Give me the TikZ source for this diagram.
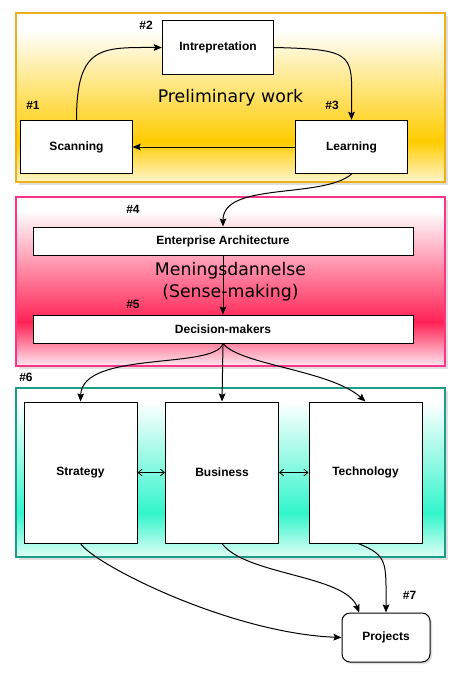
\documentclass[tikz,border=0pt]{standalone}
\usepackage{fontspec}
\setmainfont{Liberation Sans}
\newfontfamily\verdanafont{DejaVu Sans}
\usepackage{tikz}
\usetikzlibrary{arrows.meta,shadows}
\definecolor{prelimborder}{RGB}{237,176,26}
\definecolor{prelimgold}{RGB}{255,204,0}
\definecolor{prelimpale}{RGB}{255,245,205}
\definecolor{senseborder}{RGB}{255,51,136}
\definecolor{sensered}{RGB}{255,34,85}
\definecolor{sensepale}{RGB}{255,232,240}
\definecolor{fieldborder}{RGB}{26,158,136}
\definecolor{fieldcyan}{RGB}{51,245,204}
\definecolor{fieldpale}{RGB}{225,255,247}
\pgfdeclareverticalshading{prelimfade}{100bp}{color(0bp)=(prelimpale); color(25bp)=(prelimpale); color(37bp)=(prelimgold); color(70bp)=(white); color(100bp)=(white)}
\pgfdeclareverticalshading{sensefade}{100bp}{color(0bp)=(sensepale); color(25bp)=(sensepale); color(38bp)=(sensered); color(71bp)=(white); color(100bp)=(white)}
\pgfdeclareverticalshading{fieldfade}{100bp}{color(0bp)=(fieldpale); color(25bp)=(fieldpale); color(38bp)=(fieldcyan); color(71bp)=(white); color(100bp)=(white)}
\tikzset{
  area/.style={rectangle, line width=1.5pt, draw=#1border, shade, shading=#1fade,
               minimum width=321.75pt, minimum height=126.75pt, inner sep=0pt,
               drop shadow={shadow xshift=2pt, shadow yshift=-2pt, opacity=0.25}},
  heading/.style={font=\verdanafont\fontsize{13}{16.5}\selectfont, text=black, align=center},
  tag/.style={font=\bfseries\fontsize{9}{11}\selectfont},
  flow/.style={-{Stealth[length=6pt,width=5pt,inset=1pt]}, line width=0.75pt},
  link/.style={{Straight Barb[length=3pt,width=5pt]}-{Straight Barb[length=3pt,width=5pt]}, line width=0.6pt},
}

\begin{document}
\begin{tikzpicture}[
  x=0.75pt, y=-0.75pt,
  stagebox/.style={rectangle, draw=black, fill=white, line width=0.75pt, inner sep=0pt,
                   font=\bfseries\fontsize{9}{11}\selectfont},
  smallbox/.style={stagebox, minimum width=83.5pt, minimum height=40pt},
  widebox/.style={stagebox, minimum width=285pt, minimum height=21pt},
  tallbox/.style={stagebox, minimum width=84.75pt, minimum height=105.75pt},
]
  \useasboundingbox (0,0) rectangle (459,682);
  % the three areas
  \node[area=prelim] (prelim) at (230.5,97.5) {};
  \node[area=sense] (sense) at (230.5,281.5) {};
  \node[area=field] (field) at (230.5,472.5) {};
  \node[heading] (prelimtext) at (prelim.center) {Preliminary work};
  \node[heading] (sensetext) at (sense.center) {Meningsdannelse\\(Sense-making)};

  % preliminary work
  \node[smallbox] (interp) at (218,47.5) {Intrepretation};
  \node[smallbox] (scan) at (76.5,147) {Scanning};
  \node[smallbox] (learn) at (351.5,147) {Learning};

  % sense-making
  \node[widebox] (ea) at (223,241) {Enterprise Architecture};
  \node[widebox] (dm) at (223,329) {Decision-makers};

  % strategy, business, technology
  \node[tallbox] (strat) at (80.5,472.5) {Strategy};
  \node[tallbox] (bus) at (222,472.5) {Business};
  \node[tallbox] (tech) at (365.5,472.5) {Technology};

  \node[stagebox, rounded corners=6pt, minimum width=66pt, minimum height=36.75pt,
        drop shadow={shadow xshift=1.5pt, shadow yshift=-1.5pt, opacity=0.25}]
        (proj) at (386,637.5) {Projects};

  % step numbers
  \node[tag] (t1) at (33,105) {\#1};
  \node[tag] (t2) at (146,25) {\#2};
  \node[tag] (t3) at (332,105) {\#3};
  \node[tag] (t4) at (133,209) {\#4};
  \node[tag] (t5) at (133,304) {\#5};
  \node[tag] (t6) at (26,377) {\#6};
  \node[tag] (t7) at (409.5,595) {\#7};

  % connectors
  \draw[flow] (scan.north) .. controls +(0,-75) and +(-60,0) .. (interp.west);
  \draw[flow] (interp.east) .. controls +(85,2) and +(0,-65) .. (learn.north);
  \draw[flow] (learn.west) -- (scan.east);
  \draw[flow] (learn.south) .. controls +(-30,25) and +(0,-45) .. (ea.north);
  \draw[flow] (ea.south) -- (dm.north);
  \draw[flow] (dm.south) .. controls (215,370) and (82,350) .. (strat.north);
  \draw[flow] (dm.south) -- (bus.north);
  \draw[flow] (dm.south) .. controls (240,365) and (330,370) .. (tech.north);
  \draw[link] (strat) -- (bus);
  \draw[link] (bus) -- (tech);
  \draw[flow] (strat.south) .. controls (95,565) and (230,633) .. (proj.west);
  \draw[flow] (bus.south) .. controls (245,575) and (345,575) .. (proj.137);
  \draw[flow] ([xshift=-5.5pt]tech.south) .. controls +(30,12) and +(0,-50) .. (proj.north);
\end{tikzpicture}
\end{document}
